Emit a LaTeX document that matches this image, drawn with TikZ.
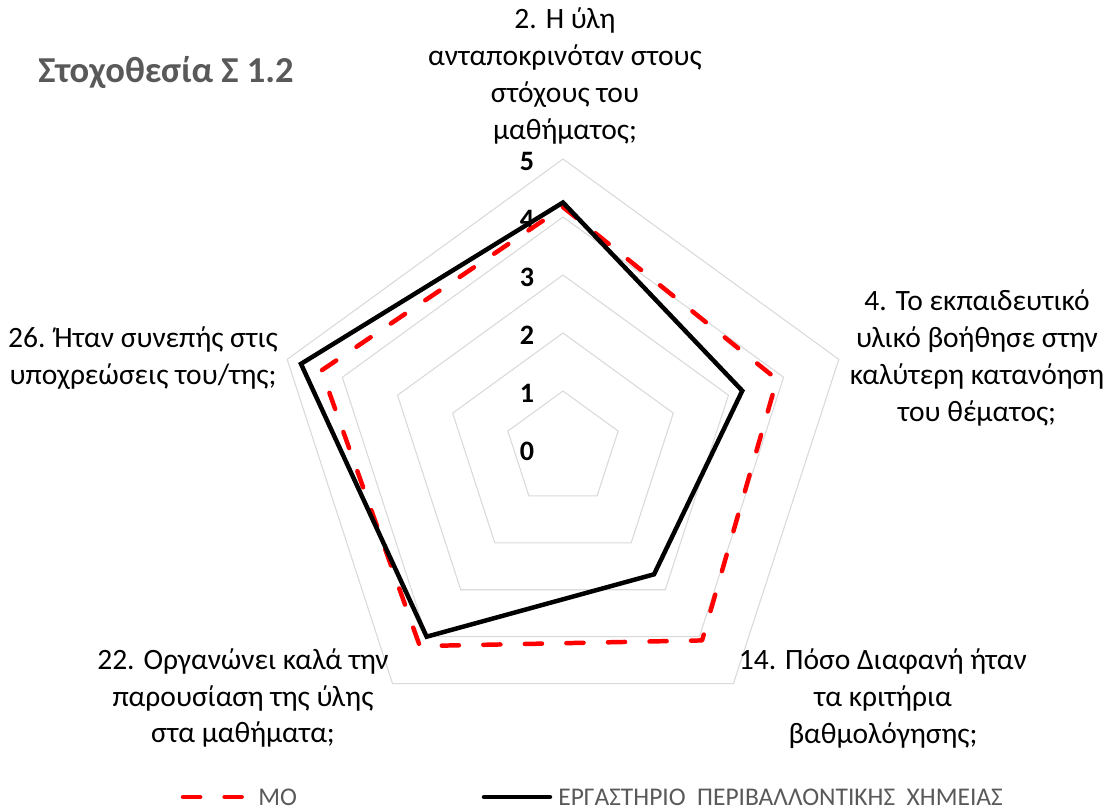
\documentclass[tikz,border=0pt]{standalone}
\usepackage{fontspec}
\setmainfont{Carlito}
\usetikzlibrary{positioning}
\definecolor{gridgray}{HTML}{D9D9D9}
\definecolor{titlegray}{HTML}{595959}
\tikzset{
  gridline/.style={gridgray, line width=0.6pt},
  labtxt/.style={align=center, inner sep=0pt, font=\fontsize{16.8}{21}\selectfont},
  numtxt/.style={inner sep=0pt, font=\fontsize{16}{18}\selectfont\bfseries},
  titletxt/.style={inner sep=0pt, text=titlegray, font=\fontsize{20.8}{24}\selectfont\bfseries},
  legtxt/.style={inner sep=0pt, anchor=west, text=titlegray, font=\fontsize{14.5}{18}\selectfont},
  moline/.style={red, line width=2.55pt, line cap=round, line join=round,
    dash pattern=on 9.75pt off 13.9pt},
  labline/.style={black, line width=2.55pt, line cap=round, line join=miter}
}
\begin{document}
\begin{tikzpicture}[x=0.02cm, y=0.02cm]
  \useasboundingbox (0,-811) rectangle (1117,0);
  \node[titletxt] (title) at (166,-72) {Στοχοθεσία Σ 1.2};
  \begin{scope}[shift={(563,-449)}]
    % grid
    \draw[gridline] (90:58) -- (18:58) -- (-54:58) -- (-126:58) -- (162:58) -- cycle;
    \draw[gridline] (90:116) -- (18:116) -- (-54:116) -- (-126:116) -- (162:116) -- cycle;
    \draw[gridline] (90:174) -- (18:174) -- (-54:174) -- (-126:174) -- (162:174) -- cycle;
    \draw[gridline] (90:232) -- (18:232) -- (-54:232) -- (-126:232) -- (162:232) -- cycle;
    \draw[gridline] (90:290) -- (18:290) -- (-54:290) -- (-126:290) -- (162:290) -- cycle;
    % scale
    \node[numtxt] (n0) at (-36,-2) {0};
    \node[numtxt] (n1) at (-36,56) {1};
    \node[numtxt] (n2) at (-36,114) {2};
    \node[numtxt] (n3) at (-36,172) {3};
    \node[numtxt] (n4) at (-36,230) {4};
    \node[numtxt] (n5) at (-36,288) {5};
    % questions
    \node[labtxt] (q2) at (2,373) {2. Η ύλη\\ανταποκρινόταν στους\\στόχους του\\μαθήματος;};
    \node[labtxt] (q4) at (414,91) {4. Το εκπαιδευτικό\\υλικό βοήθησε στην\\καλύτερη κατανόηση\\του θέματος;};
    \node[labtxt] (q14) at (320,-250) {14. Πόσο Διαφανή ήταν\\τα κριτήρια\\βαθμολόγησης;};
    \node[labtxt] (q22) at (-320,-249) {22. Οργανώνει καλά την\\παρουσίαση της ύλης\\στα μαθήματα;};
    \node[labtxt] (q26) at (-420,91) {26. Ήταν συνεπής στις\\υποχρεώσεις του/της;};
    % series
    \coordinate (m2) at (90:241.9);
    \coordinate (m4) at (18:225);
    \coordinate (m14) at (-54:236.6);
    \coordinate (m22) at (-126:243.6);
    \coordinate (m26) at (162:254);
    \coordinate (e2) at (90:246.5);
    \coordinate (e4) at (18:188.5);
    \coordinate (e14) at (-54:154.9);
    \coordinate (e22) at (-126:232);
    \coordinate (e26) at (162:275.5);
    \draw[moline] (m2) -- (m4) -- (m14) -- (m22) -- (m26) -- cycle;
    \draw[labline] (e2) -- (e4) -- (e14) -- (e22) -- (e26) -- cycle;
  \end{scope}
  % legend
  \coordinate (mo-a) at (183,-797);
  \coordinate (mo-b) at (243,-797);
  \coordinate (lab-a) at (484,-797);
  \coordinate (lab-b) at (550,-797);
  \draw[moline] (mo-a) -- (mo-b);
  \node[legtxt] (mo) at (258,-797) {ΜΟ};
  \draw[labline] (lab-a) -- (lab-b);
  \node[legtxt] (lab) at (558,-797) {ΕΡΓΑΣΤΗΡΙΟ\ \ ΠΕΡΙΒΑΛΛΟΝΤΙΚΗΣ\ \ ΧΗΜΕΙΑΣ};
\end{tikzpicture}
\end{document}
